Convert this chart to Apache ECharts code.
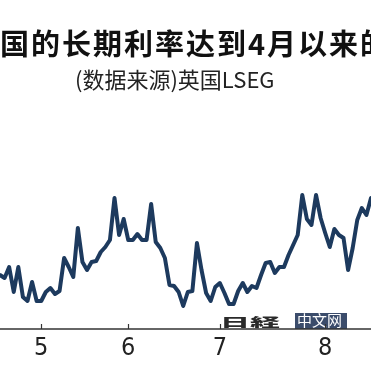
<!DOCTYPE html>
<html>
<head>
<meta charset="utf-8">
<script src="https://cdn.jsdelivr.net/npm/echarts@6/dist/echarts.min.js"></script>
<style>html,body{margin:0;padding:0;background:#fff}#c{width:371px;height:372px}</style>
</head>
<body>
<div id="c"></div>
<script>
// UK long-term interest rate (approx. 10y, %), daily business days
const values = [
  4.462, 4.453, 4.486, 4.411, 4.486, 4.396, 4.384, 4.441, 4.384, 4.384,
  4.411, 4.423, 4.405, 4.414, 4.513, 4.486, 4.456, 4.603, 4.501, 4.477,
  4.501, 4.504, 4.531, 4.546, 4.567, 4.693, 4.582, 4.630, 4.567, 4.567,
  4.585, 4.567, 4.567, 4.675, 4.561, 4.543, 4.513, 4.432, 4.429, 4.411,
  4.369, 4.411, 4.414, 4.558, 4.477, 4.408, 4.384, 4.426, 4.438, 4.408,
  4.375, 4.375, 4.414, 4.438, 4.411, 4.429, 4.423, 4.462, 4.498, 4.501,
  4.468, 4.486, 4.486, 4.522, 4.552, 4.582, 4.702, 4.630, 4.612, 4.702,
  4.633, 4.588, 4.546, 4.600, 4.582, 4.573, 4.477, 4.543, 4.627, 4.663,
  4.642, 4.693
];
const monthTickIndex = [9, 28, 48, 71];
const monthTickLabels = ['5', '6', '7', '8'];
const titleText = '国的长期利率达到4月以来的';
const subtitleText = '(数据来源)英国LSEG';

const categories = values.map((_, i) => 'd' + i);
const isTick = (i) => monthTickIndex.indexOf(i) >= 0;
const narrow = "'Liberation Sans Narrow', 'DejaVu Sans Condensed', 'Roboto', sans-serif";

// spaced title, laid out character by character
const titleFont = 'bold 29px "Noto Sans CJK SC"';
const titleSpacing = 2;
const mctx = document.createElement('canvas').getContext('2d');
mctx.font = titleFont;
const titleChars = [];
let tx = 0;
for (const ch of titleText) {
  titleChars.push({type: 'text', x: tx, y: 29, z: 10,
    style: {text: ch, font: titleFont, fill: '#111'}});
  tx += mctx.measureText(ch).width + titleSpacing;
}

const chart = echarts.init(document.getElementById('c'), null, {renderer: 'canvas'});
chart.setOption({
  animation: false,
  backgroundColor: '#ffffff',
  grid: {left: 0, right: 0, top: 129, bottom: 43, containLabel: false},
  xAxis: {
    type: 'category',
    data: categories,
    boundaryGap: false,
    axisLine: {show: true, lineStyle: {color: '#333', width: 1.5}},
    axisTick: {show: true, inside: true, length: 5, interval: (i) => isTick(i), lineStyle: {color: '#333', width: 1.2}},
    axisLabel: {
      show: true, interval: (i) => isTick(i), margin: 7,
      formatter: (v, i) => monthTickLabels[monthTickIndex.indexOf(i)] || '',
      fontFamily: narrow, fontSize: 25, color: '#222'
    },
    splitLine: {show: false}
  },
  yAxis: {
    type: 'value', min: 4.3, max: 4.9,
    show: false, splitLine: {show: false}
  },
  series: [{
    type: 'line',
    data: values,
    showSymbol: false,
    symbol: 'none',
    lineStyle: {color: '#1d3a5e', width: 4, join: 'round', cap: 'round'},
    z: 2
  }],
  graphic: titleChars.concat([
    {type: 'text', left: 75, top: 69, z: 10,
     style: {text: subtitleText, font: '22px "Noto Sans CJK SC"', fill: '#222'}},
    {type: 'group', x: 217, y: 313, z: 20, children: [
      {type: 'rect', shape: {x: 0, y: 2, width: 77, height: 15}, style: {fill: '#ffffff'}},
      {type: 'text', x: 3, y: 3, scaleX: 2.0, scaleY: 0.8,
       style: {text: '日経', font: '900 15px "Noto Sans CJK JP"', fill: '#2a2a2a'}},
      {type: 'rect', shape: {x: 78, y: 0, width: 52, height: 16},
       style: {fill: '#3b4c6b'}},
      {type: 'text', x: 80, y: 0,
       style: {text: '中文网', font: '15px "Noto Sans CJK SC"', fill: '#ffffff'}}
    ]}
  ])
});
</script>
</body>
</html>
